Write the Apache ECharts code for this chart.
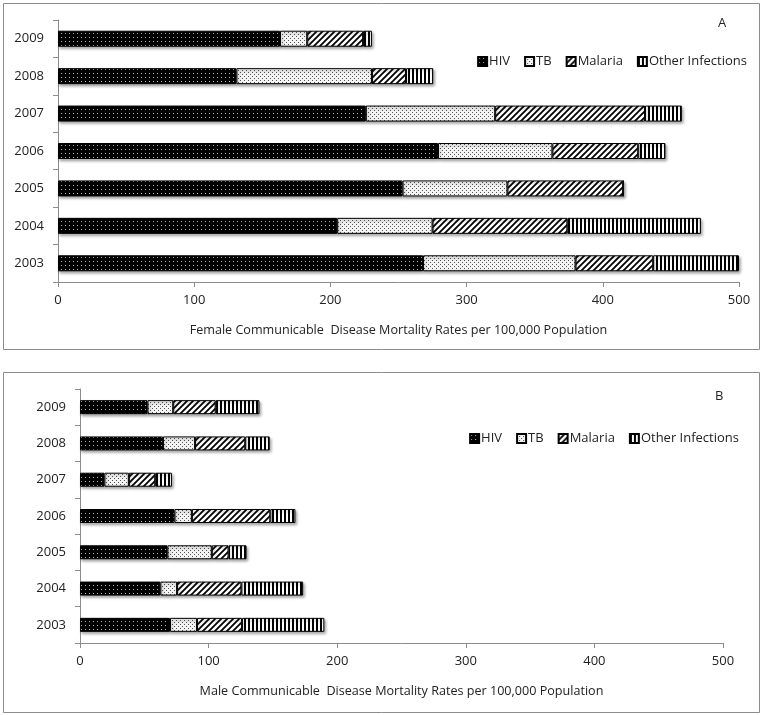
<!DOCTYPE html>
<html><head><meta charset="utf-8">
<script src="https://cdn.jsdelivr.net/npm/echarts@6/dist/echarts.min.js"></script>
<style>html,body{margin:0;padding:0;background:#fff}#c{width:764px;height:715px}</style>
</head><body><div id="c"></div>
<script>
var years = ['2003','2004','2005','2006','2007','2008','2009'];
var seriesNames = ['HIV','TB','Malaria','Other Infections'];
var xTicks = [0,100,200,300,400,500];
// Panel A: female
var femaleHIV     = [268, 205, 253, 279, 226, 131, 163];
var femaleTB      = [112, 70, 77, 84, 95, 99.5, 20];
var femaleMalaria = [57, 99, 85, 63, 110, 25, 41];
var femaleOther   = [63, 98, 0, 20, 27, 20, 6.5];
// Panel B: male
var maleHIV     = [70, 62.5, 68, 73.5, 19, 64.5, 52.5];
var maleTB      = [21, 13, 34.5, 13.5, 19, 25, 20];
var maleMalaria = [35, 50, 13, 61, 20.5, 39, 33];
var maleOther   = [64, 48, 14, 19.5, 13, 19, 34];

function mk(w,h,draw){var c=document.createElement('canvas');c.width=w;c.height=h;var g=c.getContext('2d');draw(g);return {image:c,repeat:'repeat'};}
var patHIV = mk(4,4,function(g){g.fillStyle='#000';g.fillRect(0,0,4,4);g.fillStyle='#bbb';g.fillRect(1,1,1,1);});
var patTB = mk(4,4,function(g){g.fillStyle='#f4f4f4';g.fillRect(0,0,4,4);g.fillStyle='#555';g.fillRect(0,0,1,1);g.fillRect(2,2,1,1);});
var patMal = mk(6,6,function(g){g.fillStyle='#fff';g.fillRect(0,0,6,6);g.strokeStyle='#000';g.lineWidth=1.8;
  g.beginPath();g.moveTo(-1,7);g.lineTo(7,-1);g.moveTo(-4,4);g.lineTo(4,-4);g.moveTo(2,10);g.lineTo(10,2);g.stroke();});
var patOth = mk(4,4,function(g){g.fillStyle='#fff';g.fillRect(0,0,4,4);g.fillStyle='#000';g.fillRect(0,0,2,4);});
var pats = [patHIV, patTB, patMal, patOth];

var font = 'Open Sans';
var chart = echarts.init(document.getElementById('c'), null, {renderer:'canvas'});
function mkSeries(idx, arrs, bw){
  return arrs.map(function(d,i){
    return {name:seriesNames[i], type:'bar', stack:'s'+idx, xAxisIndex:idx, yAxisIndex:idx, data:d, barWidth:bw,
      itemStyle:{color:pats[i], borderColor:'#000', borderWidth:1, shadowColor:'rgba(0,0,0,0.35)', shadowBlur:3, shadowOffsetX:1.5, shadowOffsetY:2},
      emphasis:{disabled:true}, animation:false};
  });
}
function xAx(idx, title){
  return {type:'value', gridIndex:idx, min:0, max:500, interval:100,
    axisLine:{show:true, lineStyle:{color:'#8c8c8c'}}, axisTick:{show:true, length:5, lineStyle:{color:'#8c8c8c'}},
    splitLine:{show:false},
    axisLabel:{color:'#222', fontFamily:font, fontSize:13, margin:12},
    name:title, nameLocation:'middle', nameGap:42, nameTextStyle:{color:'#222', fontFamily:font, fontSize:12.6}};
}
function yAx(idx){
  return {type:'category', gridIndex:idx, data:years,
    axisLine:{show:true, lineStyle:{color:'#8c8c8c'}}, axisTick:{show:true, length:5, lineStyle:{color:'#8c8c8c'}},
    axisLabel:{color:'#222', fontFamily:font, fontSize:13, margin:14}};
}
var legendCommon = {data:seriesNames, itemWidth:9, itemHeight:9, itemGap:14, icon:'rect',
  textStyle:{color:'#222', fontFamily:font, fontSize:13, padding:[0,0,0,-3]}, selectedMode:false};
chart.setOption({
  animation:false,
  grid:[{left:58, right:25, top:20, height:262},{left:80, right:41, top:389, height:254}],
  xAxis:[xAx(0,'Female Communicable  Disease Mortality Rates per 100,000 Population'), xAx(1,'Male Communicable  Disease Mortality Rates per 100,000 Population')],
  yAxis:[yAx(0), yAx(1)],
  legend:[Object.assign({right:12, top:50}, legendCommon), Object.assign({right:20, top:427}, legendCommon)],
  graphic:[
    {type:'rect', shape:{x:3.5,y:3.5,width:756,height:346}, style:{fill:'none', stroke:'#8c8c8c', lineWidth:1}, silent:true},
    {type:'rect', shape:{x:3.5,y:372.5,width:756,height:340}, style:{fill:'none', stroke:'#8c8c8c', lineWidth:1}, silent:true},
    {type:'text', left:718, top:17, style:{text:'A', fill:'#222', font:'13px "Open Sans"'}},
    {type:'text', left:715, top:390, style:{text:'B', fill:'#222', font:'13px "Open Sans"'}}
  ],
  series: mkSeries(0,[femaleHIV,femaleTB,femaleMalaria,femaleOther],16).concat(mkSeries(1,[maleHIV,maleTB,maleMalaria,maleOther],14))
});
</script></body></html>
